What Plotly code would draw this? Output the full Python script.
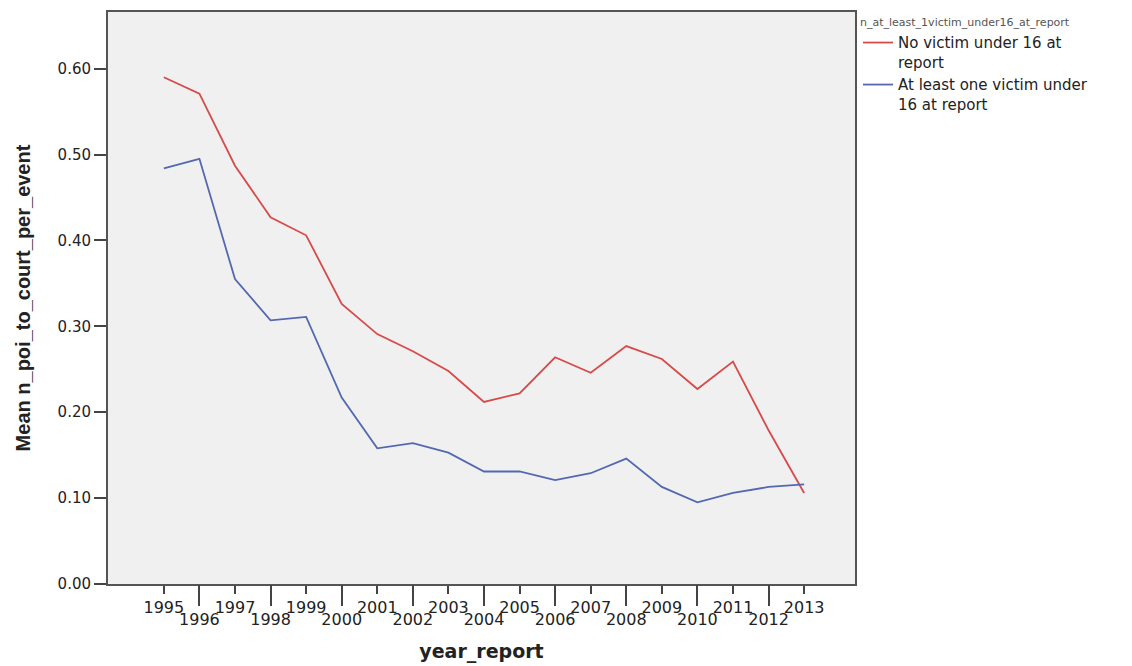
import plotly.graph_objects as go

years = list(range(1995, 2014))
no_victim = [0.590, 0.571, 0.487, 0.427, 0.406, 0.326, 0.291, 0.271, 0.248, 0.212,
             0.222, 0.264, 0.246, 0.277, 0.262, 0.227, 0.259, 0.179, 0.106]
at_least_one = [0.484, 0.495, 0.355, 0.307, 0.311, 0.217, 0.158, 0.164, 0.153, 0.131,
                0.131, 0.121, 0.129, 0.146, 0.113, 0.095, 0.106, 0.113, 0.116]
series_names = ["No victim under 16 at<br>report", "At least one victim under<br>16 at report"]
legend_title = "n_at_least_1victim_under16_at_report"
y_ticks = [0.0, 0.1, 0.2, 0.3, 0.4, 0.5, 0.6]

odd_years = [y for y in years if y % 2 == 1]
even_years = [y for y in years if y % 2 == 0]

FONT = "DejaVu Sans"
xr = [1993.43, 2014.43]

fig = go.Figure()
fig.add_trace(go.Scatter(x=years, y=no_victim, mode="lines", name=series_names[0],
                         line=dict(color="#d84a4a", width=1.8)))
fig.add_trace(go.Scatter(x=years, y=at_least_one, mode="lines", name=series_names[1],
                         line=dict(color="#5468b2", width=1.8)))
# invisible helper trace so the second (even-year) tick axis is drawn
fig.add_trace(go.Scatter(x=years, y=no_victim, xaxis="x2", mode="lines",
                         line=dict(color="rgba(0,0,0,0)"), showlegend=False, hoverinfo="skip"))

fig.update_layout(
    width=1124, height=658,
    margin=dict(l=100, r=277, t=2, b=82),
    paper_bgcolor="white", plot_bgcolor="#f0f0f0",
    font=dict(family=FONT, color="#222"),
    xaxis=dict(range=xr, tickvals=odd_years, ticktext=[str(y) for y in odd_years],
               ticks="outside", ticklen=8, tickwidth=2, tickcolor="#444",
               tickfont=dict(size=16, family=FONT), showgrid=False, zeroline=False,
               showline=True, linecolor="#555", linewidth=2, mirror=True,
               title=dict(text="<b>year_report</b>", font=dict(size=19, family=FONT), standoff=28)),
    xaxis2=dict(range=xr, overlaying="x", anchor="y", side="bottom",
                tickvals=even_years, ticktext=[str(y) for y in even_years],
                ticks="outside", ticklen=21, tickwidth=2, tickcolor="#444",
                tickfont=dict(size=16, family=FONT), showgrid=False, zeroline=False,
                showline=False),
    yaxis=dict(range=[0, 0.666], tickvals=y_ticks, tickformat=".2f",
               ticks="outside", ticklen=12, tickwidth=2, tickcolor="#444",
               tickfont=dict(size=15, family=FONT), showgrid=False, zeroline=False,
               showline=True, linecolor="#555", linewidth=2, mirror=True,
               title=dict(text="<b>Mean n_poi_to_court_per_event</b>",
                          font=dict(size=20, family="Liberation Sans"), standoff=22)),
    legend=dict(x=1.004, xanchor="left", y=1.0, yanchor="top",
                bgcolor="rgba(0,0,0,0)", font=dict(size=15, family=FONT),
                title=dict(text=legend_title, font=dict(size=11, family=FONT, color="#555")),
                itemwidth=30, tracegroupgap=0, valign="top"),
    showlegend=True,
)

fig.write_html("out.html")
